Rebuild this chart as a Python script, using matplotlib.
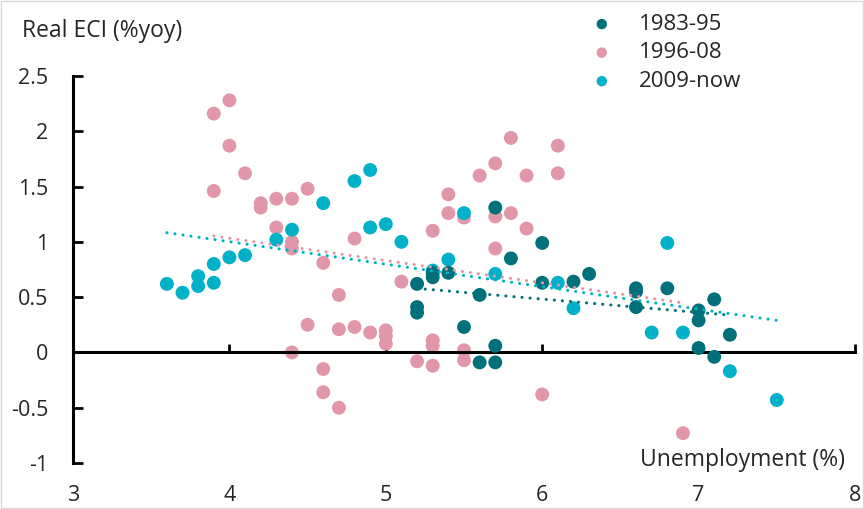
import numpy as np
import matplotlib
matplotlib.use("Agg")
import matplotlib.pyplot as plt
from matplotlib.patches import Rectangle

plt.rcParams['font.family'] = ['Open Sans', 'DejaVu Sans']

# ---- data ----
labels = ["1983-95", "1996-08", "2009-now"]
colors = ["#00717B", "#E196AA", "#00B1C9"]

x_8395 = [5.2, 5.2, 5.2, 5.3, 5.3, 5.4, 5.5, 5.6, 5.6, 5.7, 5.7, 5.7, 5.8, 6.0, 6.0,
          6.2, 6.3, 6.6, 6.6, 6.6, 6.8, 7.0, 7.0, 7.0, 7.1, 7.1, 7.2]
y_8395 = [0.62, 0.41, 0.36, 0.72, 0.68, 0.72, 0.23, 0.52, -0.09, 1.31, 0.06, -0.09, 0.85, 0.99, 0.63,
          0.64, 0.71, 0.58, 0.55, 0.41, 0.58, 0.38, 0.29, 0.04, 0.48, -0.04, 0.16]

x_9608 = [3.9, 3.9, 4.0, 4.0, 4.1, 4.2, 4.2, 4.3, 4.3, 4.4, 4.4, 4.4, 4.4, 4.5, 4.5,
          4.6, 4.6, 4.6, 4.7, 4.7, 4.7, 4.8, 4.8, 4.9, 5.0, 5.0, 5.0, 5.1, 5.2, 5.3,
          5.3, 5.3, 5.3, 5.4, 5.4, 5.5, 5.5, 5.5, 5.6, 5.7, 5.7, 5.7, 5.8, 5.8, 5.9,
          5.9, 6.0, 6.1, 6.1, 6.9]
y_9608 = [2.16, 1.46, 2.28, 1.87, 1.62, 1.31, 1.35, 1.39, 1.13, 1.39, 1.00, 0.94, 0.00, 1.48, 0.25,
          0.81, -0.15, -0.36, 0.52, 0.21, -0.50, 1.03, 0.23, 0.18, 0.20, 0.15, 0.08, 0.64, -0.08, 1.10,
          0.11, 0.06, -0.12, 1.43, 1.26, 1.22, 0.02, -0.07, 1.60, 1.71, 1.23, 0.94, 1.94, 1.26, 1.60,
          1.12, -0.38, 1.87, 1.62, -0.73]

x_09now = [3.6, 3.7, 3.8, 3.8, 3.9, 3.9, 4.0, 4.1, 4.3, 4.4, 4.6, 4.8, 4.9, 4.9, 5.0,
           5.1, 5.3, 5.4, 5.5, 5.7, 6.1, 6.2, 6.7, 6.8, 6.9, 7.2, 7.5]
y_09now = [0.62, 0.54, 0.69, 0.60, 0.80, 0.63, 0.86, 0.88, 1.02, 1.11, 1.35, 1.55, 1.65, 1.13, 1.16,
           1.00, 0.74, 0.84, 1.26, 0.71, 0.63, 0.40, 0.18, 0.99, 0.18, -0.17, -0.43]

x_ticks = [3, 4, 5, 6, 7, 8]
y_ticks = [-1, -0.5, 0, 0.5, 1, 1.5, 2, 2.5]
y_ticklabels = ["-1", "-0.5", "0", "0.5", "1", "1.5", "2", "2.5"]

series = [(x_8395, y_8395), (x_9608, y_9608), (x_09now, y_09now)]

TXT = '#262626'
FS = 15.5

# ---- figure ----
W, H = 864, 509
fig = plt.figure(figsize=(W / 100, H / 100), dpi=100)
ax = fig.add_axes([73 / W, 1 - 463 / H, 782 / W, 387 / H])

zorders = [4, 2, 3]
for (xs, ys), c, lab, z in zip(series, colors, labels, zorders):
    ax.scatter(xs, ys, s=100, color=c, edgecolors='none', label=lab, zorder=z)

# linear trendlines over each series' range
for (xs, ys), c in zip(series, colors):
    xs_a = np.asarray(xs); ys_a = np.asarray(ys)
    m, b = np.polyfit(xs_a, ys_a, 1)
    xx = np.array([xs_a.min(), xs_a.max()])
    ax.plot(xx, m * xx + b, color=c, lw=2.2, linestyle=(0, (0.05, 2.6)),
            dash_capstyle='round', zorder=6)

ax.set_xlim(3, 8)
ax.set_ylim(-1, 2.5)

for s in ['top', 'right']:
    ax.spines[s].set_visible(False)
ax.spines['bottom'].set_position(('data', 0))
ax.spines['bottom'].set_linewidth(2.2)
ax.spines['left'].set_linewidth(2.2)

ax.set_xticks(x_ticks)
ax.tick_params(axis='x', direction='in', length=6, width=2, labelbottom=False)
ax.set_yticks(y_ticks)
ax.set_yticklabels(y_ticklabels)
ax.tick_params(axis='y', direction='in', length=7, width=2, pad=18, labelsize=FS,
               labelcolor=TXT)

sec = ax.secondary_xaxis(-0.056)
sec.set_xticks(x_ticks)
sec.set_xticklabels([str(v) for v in x_ticks])
sec.tick_params(length=0, pad=0, labelsize=FS, labelcolor=TXT)
sec.spines['bottom'].set_visible(False)

ax.text((845 - 73) / 782, (463 - 460) / 387, "Unemployment (%)", transform=ax.transAxes,
        ha='right', va='center', fontsize=16.5, color=TXT)
fig.text(22 / W, 1 - 31 / H, "Real ECI (%yoy)", ha='left', va='center', fontsize=16.5,
         color=TXT)

# legend
leg = fig.legend(loc='upper left', bbox_to_anchor=(584 / W, 1 - 5 / H), frameon=False,
                 fontsize=16, handletextpad=1.25, labelspacing=0.34, markerscale=0.75,
                 borderaxespad=0, handlelength=0.8)
for t in leg.get_texts():
    t.set_color(TXT)

fig.add_artist(Rectangle((0.0008, 0.0015), 0.9984, 0.997, transform=fig.transFigure,
                         fill=False, edgecolor='#D9D9D9', lw=1))

fig.savefig("out.png", dpi=100)
